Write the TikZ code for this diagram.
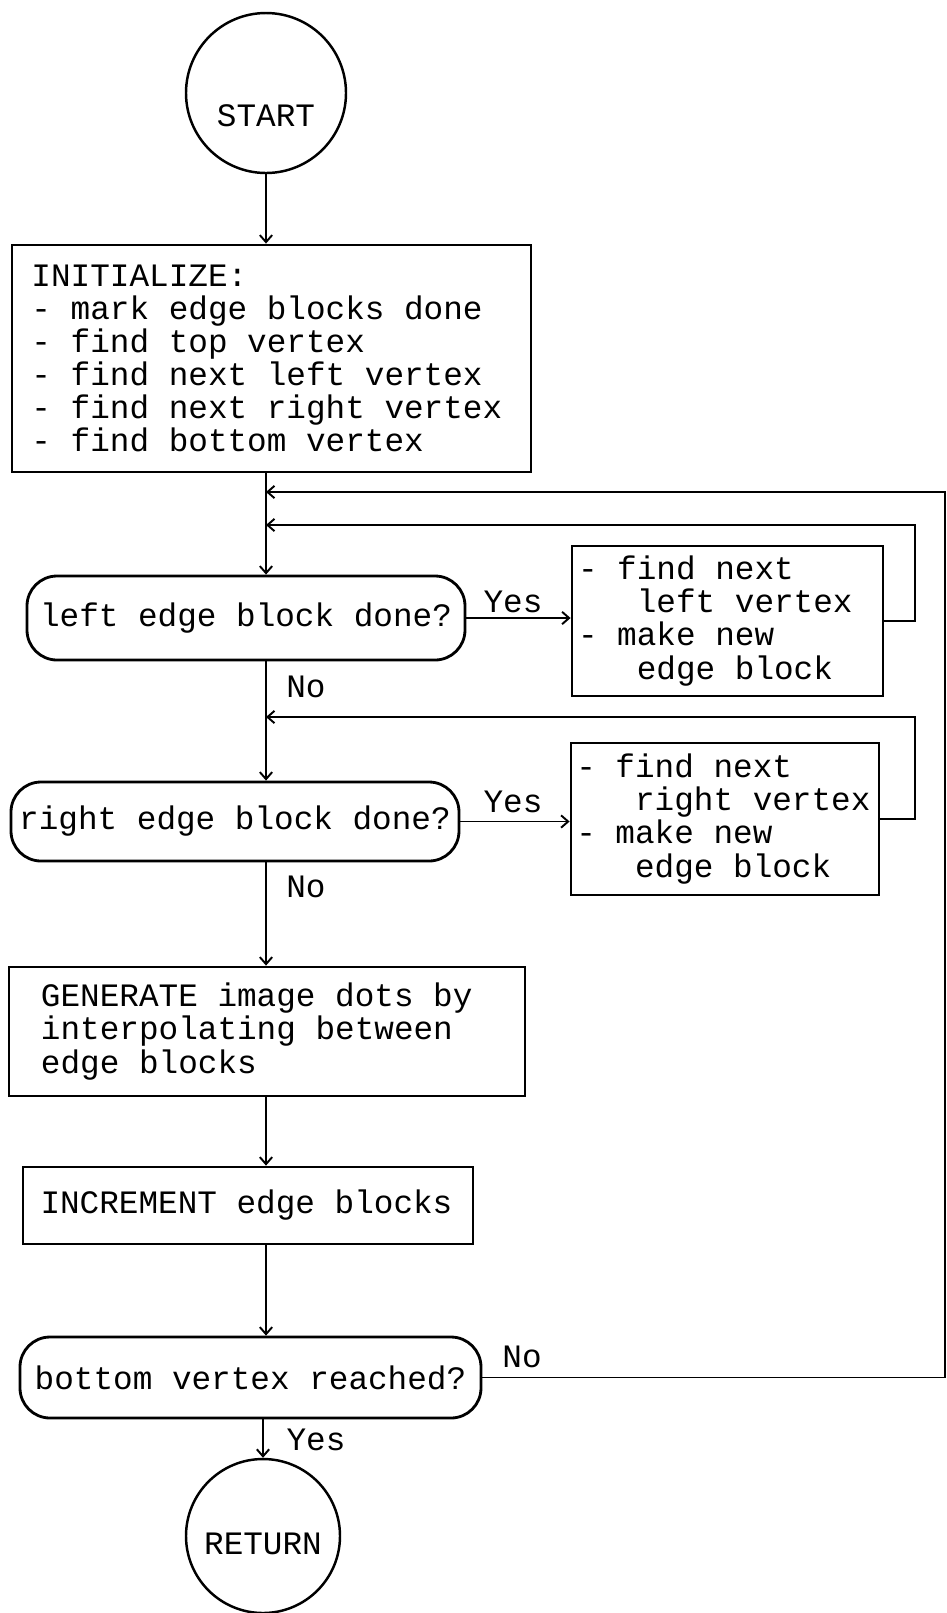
\documentclass[tikz,border=0pt]{standalone}
\usepackage{fontspec}
\setmonofont{Liberation Mono}
\usepackage{tikz}
\usetikzlibrary{arrows.meta}

\newcommand{\ind}{\hphantom{xxx}}

\begin{document}
\begin{tikzpicture}[
  font=\ttfamily\fontsize{18.6pt}{18.8pt}\selectfont,
  term/.style={draw, circle, line width=1.4pt, inner sep=0pt},
  b/.style={draw, line width=1.6pt, align=left, inner ysep=0pt,
    execute at begin node={\spaceskip=0pt\xspaceskip=0pt}},
  q/.style={draw, line width=1.6pt, rounded corners=0.6cm, inner sep=0.1cm},
  arr/.style={-{Straight Barb[length=4pt,width=7pt]}, line width=1.1pt}
]
\useasboundingbox (0,0) rectangle (18.94,-32.26);
\node[term, minimum size=3.2cm, text height=1.34cm] (start) at (5.32,-1.86) {START};
\node[b, minimum width=10.38cm, minimum height=4.54cm, text width=9.6cm, inner xsep=0.39cm] (init) at (5.43,-7.17) {INITIALIZE:\\- mark edge blocks done\\- find top vertex\\- find next left vertex\\- find next right vertex\\- find bottom vertex};
\node[q, minimum width=8.76cm, minimum height=1.68cm] (d1) at (4.92,-12.36) {left edge block done?};
\node[b, minimum width=6.22cm, minimum height=3.0cm, text width=5.98cm, inner xsep=0.12cm] (b1) at (14.55,-12.42) {- find next\\\ind left vertex\\- make new\\\ind edge block};
\node[q, minimum width=8.96cm, minimum height=1.58cm] (d2) at (4.7,-16.43) {right edge block done?};
\node[b, minimum width=6.16cm, minimum height=3.04cm, text width=5.95cm, inner xsep=0.105cm] (b2) at (14.5,-16.38) {- find next\\\ind right vertex\\- make new\\\ind edge block};
\node[b, minimum width=10.32cm, minimum height=2.58cm, text width=9.04cm, inner xsep=0.64cm] (gen) at (5.34,-20.63) {GENERATE image dots by\\interpolating between\\edge blocks};
\node[b, minimum width=9cm, minimum height=1.54cm, text width=8.3cm, inner xsep=0.35cm] (inc) at (4.96,-24.11) {INCREMENT edge blocks};
\node[q, minimum width=9.22cm, minimum height=1.62cm] (d3) at (5.01,-27.55) {bottom vertex reached?};
\node[term, minimum size=3.08cm, text height=0.74cm] (ret) at (5.26,-30.72) {RETURN};
% branch labels
\node (yes1) at (10.26,-12.04) {Yes};
\node (no1) at (6.12,-13.74) {No};
\node (yes2) at (10.26,-16.04) {Yes};
\node (no2) at (6.12,-17.74) {No};
\node (no3) at (10.44,-27.14) {No};
\node (yes3) at (6.32,-28.8) {Yes};
% loop joints
\coordinate (j1) at (5.32,-9.84);
\coordinate (j2) at (5.32,-10.5);
\coordinate (j3) at (5.32,-14.34);
\coordinate (c1) at (18.9,-9.84);
\coordinate (c2) at (18.3,-10.5);
\coordinate (c3) at (18.3,-14.34);
\draw[arr] (start) -- (start |- init.north);
\draw[arr] (init.south -| start) -- (d1.north -| start);
\draw[arr] (d1.south -| start) -- (d2.north -| start);
\draw[arr] (d2.south -| start) -- (gen.north -| start);
\draw[arr] (gen.south -| start) -- (inc.north -| start);
\draw[arr] (inc.south -| start) -- (d3.north -| start);
\draw[arr] (d3.south -| ret) -- (ret);
\draw[arr] (d1.east) -- (d1.east -| b1.west);
\draw[arr] (d2.east) -- (d2.east -| b2.west);
\draw[arr] (b1.east) -| (c2) -- (j2);
\draw[arr] (b2.east) -| (c3) -- (j3);
\draw[arr] (d3.east) -| (c1) -- (j1);
\end{tikzpicture}
\end{document}
